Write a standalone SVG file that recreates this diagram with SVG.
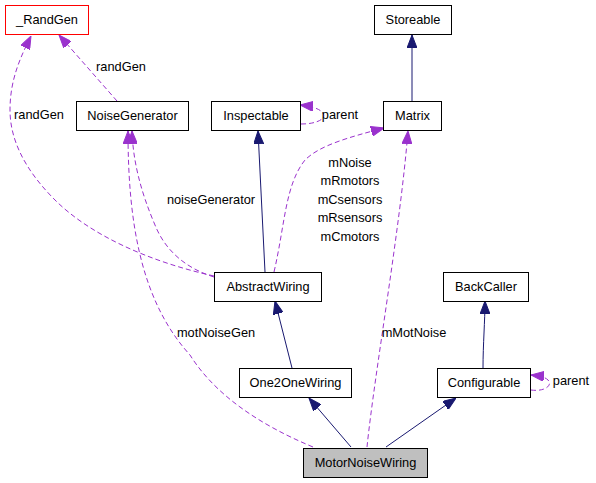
<svg xmlns="http://www.w3.org/2000/svg" width="596" height="483" viewBox="0 0 596 483">
<style>
.n rect{fill:#fff;stroke:#000;stroke-width:1}
text{font-family:"Liberation Sans",Arial,sans-serif;font-size:12.8px;fill:#000}
.n text{text-anchor:middle}
.e path{fill:none;stroke-width:1}
.u{stroke:#9a32cd;stroke-dasharray:5,3;marker-end:url(#ap)}
.i{stroke:#191970;marker-end:url(#ab)}
.l{text-anchor:middle}
</style>
<defs>
<marker id="ap" markerUnits="userSpaceOnUse" viewBox="0 0 13 10" markerWidth="13" markerHeight="10" refX="13" refY="5" orient="auto"><path d="M0,0 L13,5 L0,10 z" fill="#9a32cd" stroke="#9a32cd"/></marker>
<marker id="ab" markerUnits="userSpaceOnUse" viewBox="0 0 13 10" markerWidth="13" markerHeight="10" refX="13" refY="5" orient="auto"><path d="M0,0 L13,5 L0,10 z" fill="#191970" stroke="#191970"/></marker>
</defs>
<rect width="596" height="483" fill="#fff"/>
<g class="e" id="edges">
<path class="u" d="M214,276 C150,262 90,235 55,200 C25,170 10,140 10,110 C10,80 20,58 31,36"/>
<path class="u" d="M117,101 L59,35"/>
<path class="u" d="M214,277 C185,268 165,250 155,225 C140,190 133,160 132,131"/>
<path class="u" d="M313,447 C260,425 215,395 190,355 C140,300 128,220 128,131"/>
<path class="i" d="M265,272 L258,131"/>
<path class="u" d="M301,124 C318,124 328,118 322,112 C318,108 310,106 300,105"/>
<path class="u" d="M274,272 C285,225 285,185 305,160 C320,145 350,137 384,128"/>
<path class="u" d="M367,447 C375,370 400,230 408,131"/>
<path class="i" d="M412,101 L412,35"/>
<path class="i" d="M292,368 L275,301"/>
<path class="i" d="M483,368 C483,345 485,320 485,301"/>
<path class="i" d="M351,447 L309,398"/>
<path class="i" d="M386,447 L456,398"/>
<path class="u" d="M531,390 C545,392 553,385 548,380 C545,377 540,376 531,375"/>
<text class="l" x="121" y="71">randGen</text>
<text class="l" x="39" y="119">randGen</text>
<text class="l" x="211" y="204">noiseGenerator</text>
<text class="l" x="216" y="337">motNoiseGen</text>
<text class="l" x="340" y="119">parent</text>
<text class="l" x="350" y="167">mNoise</text>
<text class="l" x="350" y="185">mRmotors</text>
<text class="l" x="350" y="204">mCsensors</text>
<text class="l" x="350" y="222">mRsensors</text>
<text class="l" x="350" y="241">mCmotors</text>
<text class="l" x="414" y="337">mMotNoise</text>
<text class="l" x="571" y="385">parent</text>
</g>
<g class="n" id="RandGen"><rect x="5.5" y="5.5" width="83" height="29" style="stroke:#f00"/><text x="47" y="24">_RandGen</text></g>
<g class="n" id="Storeable"><rect x="374.5" y="5.5" width="77" height="29"/><text x="413" y="24">Storeable</text></g>
<g class="n" id="NoiseGenerator"><rect x="76.5" y="101.5" width="112" height="29"/><text x="132.5" y="120">NoiseGenerator</text></g>
<g class="n" id="Inspectable"><rect x="211.5" y="101.5" width="89" height="29"/><text x="256" y="120">Inspectable</text></g>
<g class="n" id="Matrix"><rect x="383.5" y="101.5" width="58" height="29"/><text x="412.5" y="120">Matrix</text></g>
<g class="n" id="AbstractWiring"><rect x="214.5" y="272.5" width="107" height="29"/><text x="268" y="291">AbstractWiring</text></g>
<g class="n" id="BackCaller"><rect x="443.5" y="272.5" width="85" height="29"/><text x="486" y="291">BackCaller</text></g>
<g class="n" id="One2OneWiring"><rect x="239.5" y="368.5" width="112" height="29"/><text x="295.5" y="387">One2OneWiring</text></g>
<g class="n" id="Configurable"><rect x="437.5" y="368.5" width="93" height="29"/><text x="484" y="387">Configurable</text></g>
<g class="n" id="MotorNoiseWiring"><rect x="303.5" y="448.5" width="124" height="29" style="fill:#bfbfbf"/><text x="365.5" y="467">MotorNoiseWiring</text></g>
</svg>
